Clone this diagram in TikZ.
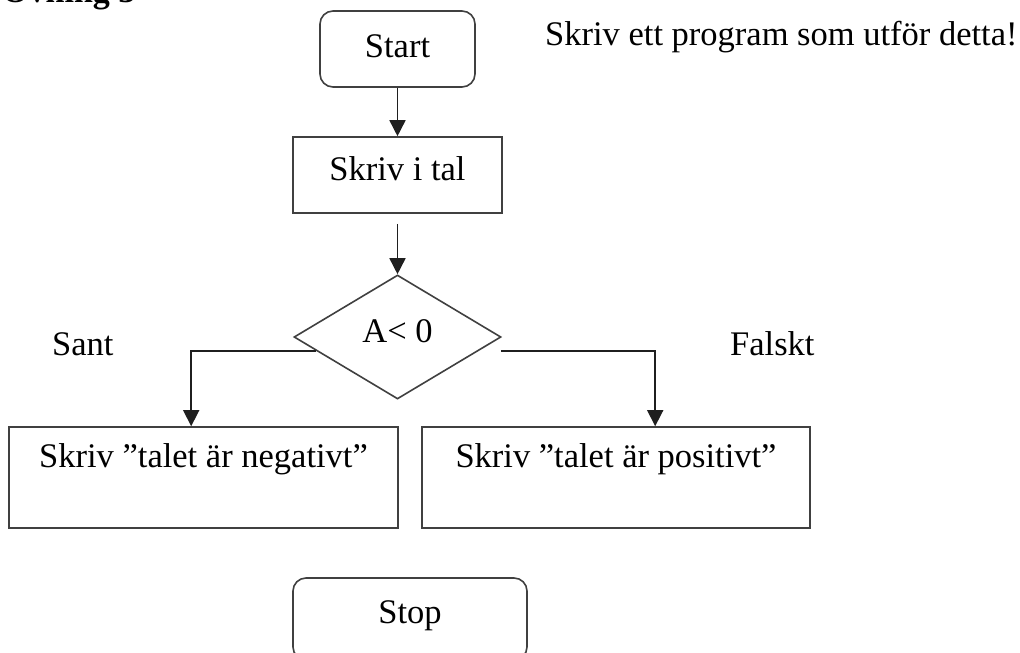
\documentclass[tikz,border=0pt]{standalone}
\usepackage{fontspec}
\setmainfont{Liberation Serif}
\usetikzlibrary{shapes.geometric,arrows.meta,calc}
\tikzset{
  base/.style={draw=black!75, line width=1.6pt, inner sep=0pt, font=\fontsize{34.5}{40}\selectfont},
  termbox/.style={base, rectangle, rounded corners=13pt},
  procbox/.style={base, rectangle},
  decbox/.style={base, diamond, shape aspect=1.67},
  lbl/.style={inner sep=0pt, anchor=base west, font=\fontsize{34.5}{40}\selectfont},
  conn/.style={draw=black!88, line width=1.6pt, -{Triangle[width=16pt,length=16pt]}},
}
\begin{document}
\begin{tikzpicture}[x=1pt,y=-1pt]
\useasboundingbox (0,0) rectangle (1020,653);
\clip (0,0) rectangle (1020,653);
% title (cut off at top)
\node[lbl, font=\fontsize{34}{40}\selectfont\bfseries] (title) at (2,2) {Övning 3};
\node[lbl] (task) at (545,45) {Skriv ett program som utför detta!};
% nodes
\node[termbox, minimum width=155pt, minimum height=76pt, text height=22pt, text depth=6pt] (start) at (397.5,49) {Start};
\node[procbox, minimum width=209pt, minimum height=76pt, text height=22pt, text depth=12pt] (read) at (397.5,175) {Skriv i tal};
\node[decbox, minimum width=207pt, minimum height=124pt, text height=22pt, text depth=12pt] (dec) at (397.5,337) {A< 0};
\node[procbox, minimum width=389pt, minimum height=101pt, text height=24pt, text depth=45pt] (neg) at (203.5,477.5) {Skriv ”talet är negativt”};
\node[procbox, minimum width=388pt, minimum height=101pt, text height=24pt, text depth=45pt] (pos) at (616,477.5) {Skriv ”talet är positivt”};
\node[termbox, minimum width=234pt, minimum height=82pt, text height=22pt, text depth=14pt] (stop) at (410,619) {Stop};
% labels
\node[lbl] (sant) at (52,355) {Sant};
\node[lbl] (falskt) at (730,355) {Falskt};
% connectors
\coordinate (rdout) at ($(read.south)+(0,10)$);
\coordinate (decL) at ($(dec.west)+(23,14)$);
\coordinate (decR) at ($(dec.east)+(-1,14)$);
\coordinate (negin) at ($(neg.north west)+(183,0)$);
\coordinate (posin) at ($(pos.north west)+(234,0)$);
\draw[conn] (start.south) -- (read.north);
\draw[conn] (rdout) -- (dec.north);
\draw[conn] (decL) -| (negin);
\draw[conn] (decR) -| (posin);
\end{tikzpicture}
\end{document}
